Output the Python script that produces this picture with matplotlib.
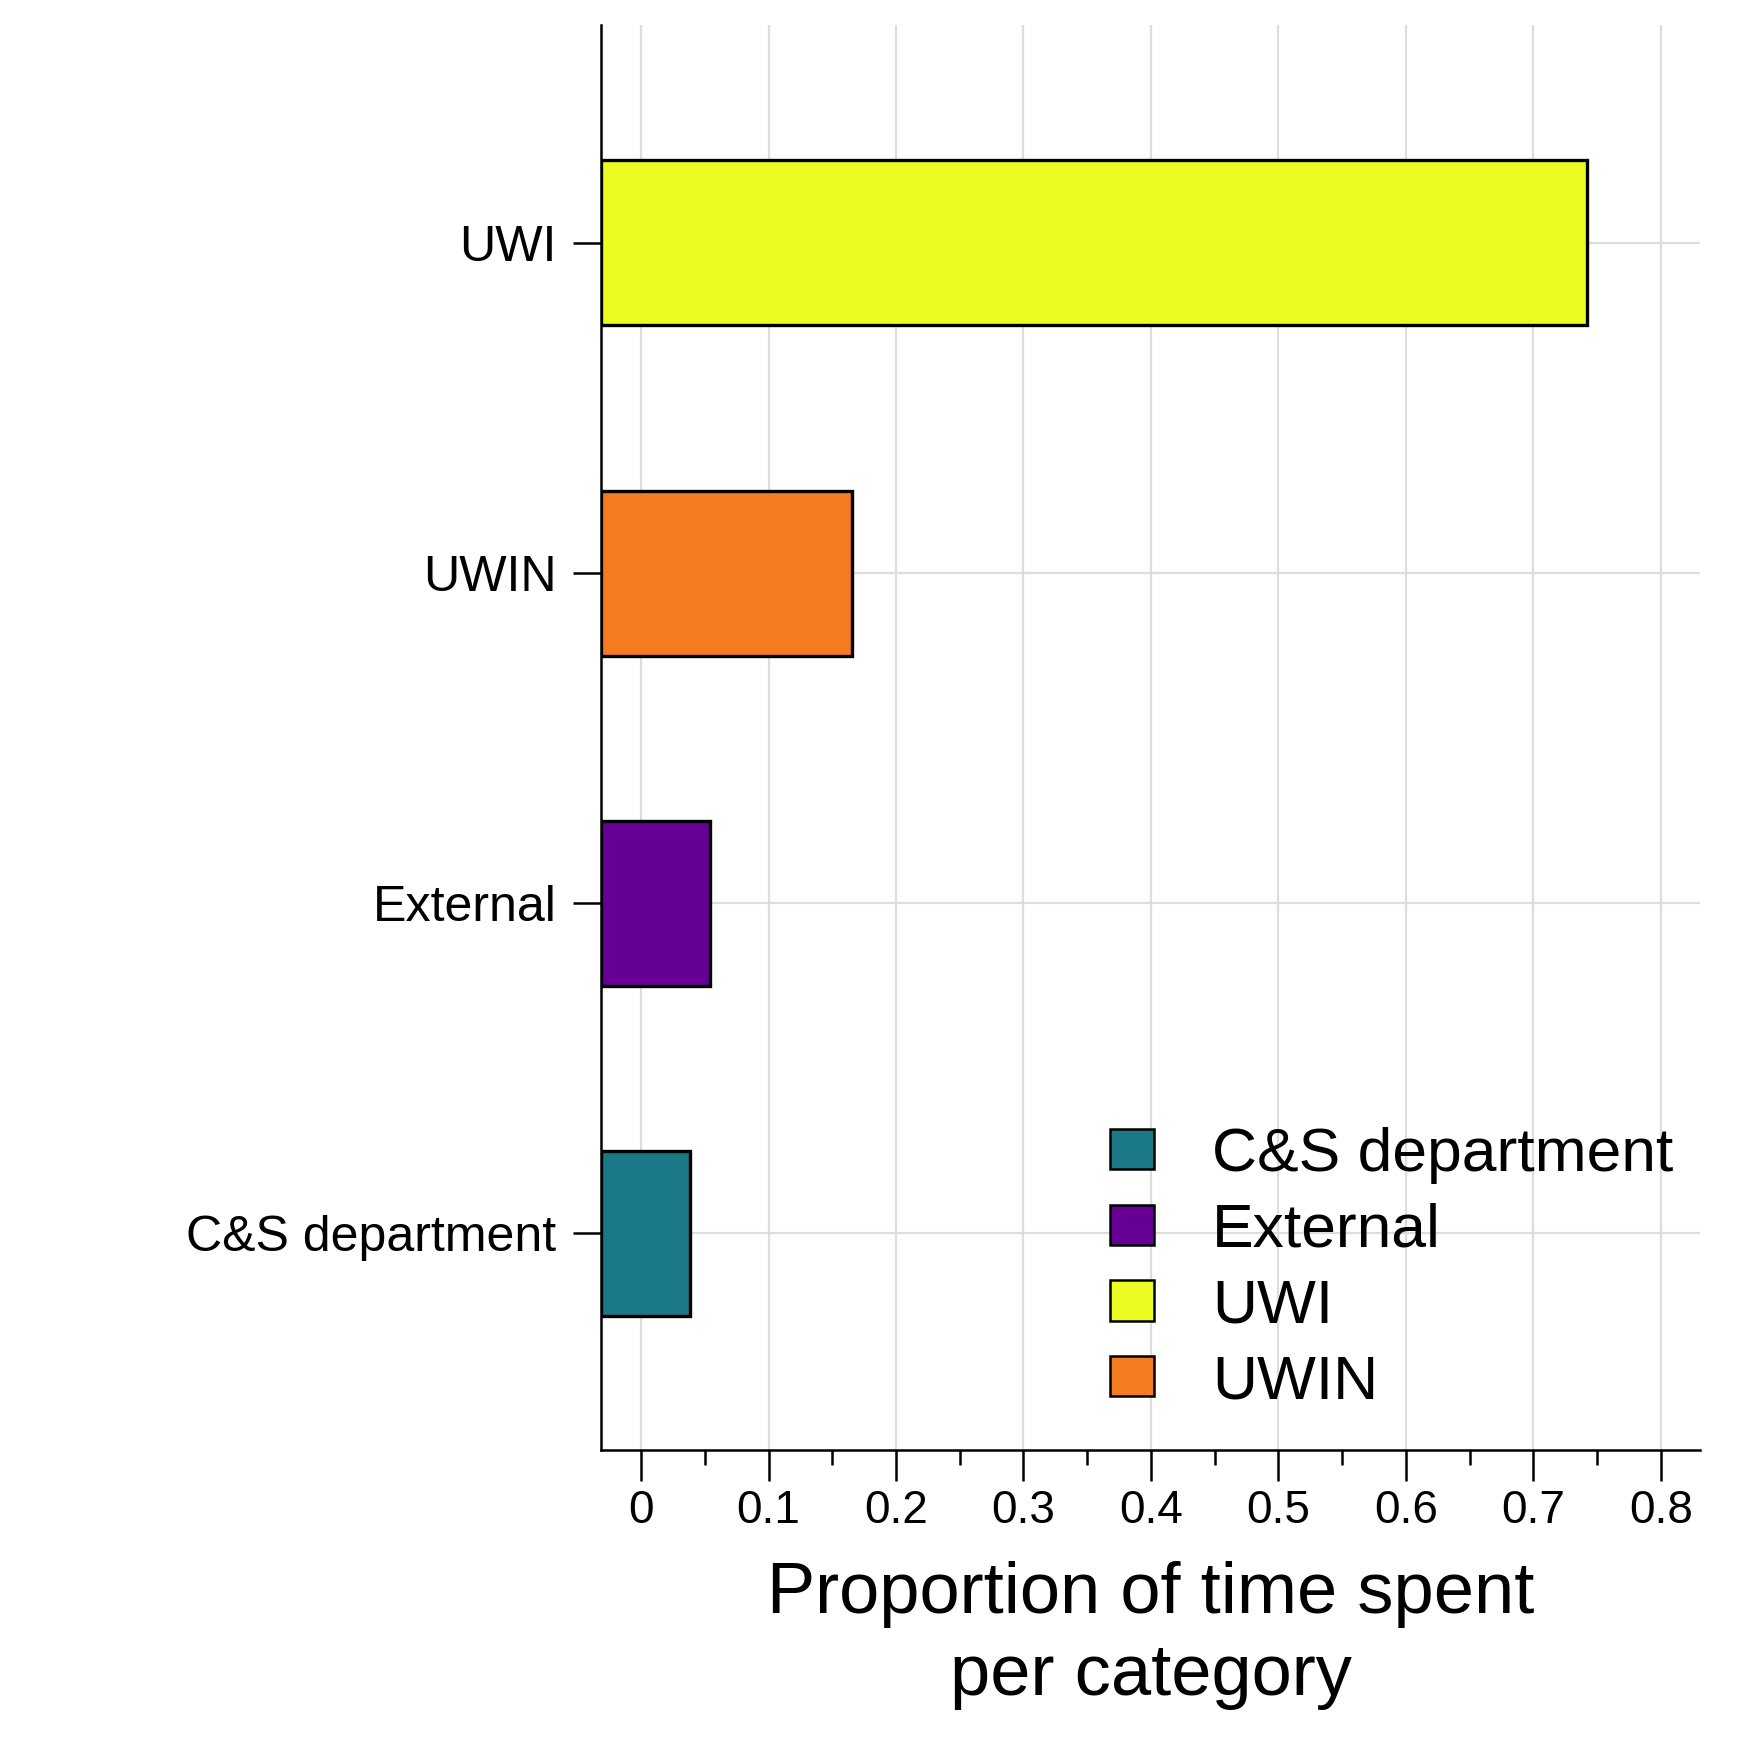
import matplotlib
matplotlib.use("Agg")
import matplotlib.pyplot as plt
from matplotlib.patches import Patch
from matplotlib.ticker import MultipleLocator

plt.rcParams['font.family'] = ['Liberation Sans', 'DejaVu Sans']

# Data (bottom to top on the y axis)
categories = ["C&S department", "External", "UWIN", "UWI"]
proportions = [0.0386, 0.0543, 0.1656, 0.742]
colors = {"C&S department": "#1b7886", "External": "#660094",
          "UWI": "#eafc21", "UWIN": "#f57b20"}
legend_order = ["C&S department", "External", "UWI", "UWIN"]
xticks = [0, 0.1, 0.2, 0.3, 0.4, 0.5, 0.6, 0.7, 0.8]
xticklabels = ["0", "0.1", "0.2", "0.3", "0.4", "0.5", "0.6", "0.7", "0.8"]

XMIN, XMAX = -0.0315, 0.8307

fig = plt.figure(figsize=(17.5, 17.5), dpi=100)
ax = fig.add_axes([0.3434, 0.1714, 0.9714 - 0.3434, 0.9857 - 0.1714])

ypos = list(range(len(categories)))
# bars start at the left edge of the panel
ax.barh(ypos, [p - XMIN for p in proportions], left=XMIN, height=0.5,
        color=[colors[c] for c in categories],
        edgecolor="black", linewidth=2.4, zorder=3)

ax.set_xlim(XMIN, XMAX)
ax.set_ylim(-0.656, 3.66)
ax.set_xticks(xticks)
ax.set_xticklabels(xticklabels)
ax.xaxis.set_minor_locator(MultipleLocator(0.05))
ax.set_yticks(ypos)
ax.set_yticklabels(categories)

ax.grid(True, which="major", color="#dddddd", linewidth=1.6, zorder=0)
ax.set_axisbelow(True)

for s in ["top", "right"]:
    ax.spines[s].set_visible(False)
for s in ["left", "bottom"]:
    ax.spines[s].set_linewidth(1.8)
    ax.spines[s].set_color("black")
    ax.spines[s].set_zorder(4)

ax.tick_params(axis="x", which="major", length=22, width=1.8, labelsize=33,
               pad=6, direction="out")
ax.tick_params(axis="x", which="minor", length=11, width=1.8, direction="out")
ax.tick_params(axis="y", which="major", length=20, width=1.8, labelsize=36.1,
               pad=12, direction="out")

ax.set_xlabel("Proportion of time spent\nper category", fontsize=52,
              linespacing=1.3, labelpad=20)

handles = [Patch(facecolor=colors[c], edgecolor="black", linewidth=1.8)
           for c in legend_order]
fig.legend(handles, legend_order, loc="center left",
           bbox_to_anchor=(0.634, 0.2748), bbox_transform=fig.transFigure,
           frameon=False, fontsize=44.9, handlelength=0.72, handleheight=0.62,
           handletextpad=0.92, labelspacing=0.3, borderpad=0, borderaxespad=0)

fig.savefig("out.png", dpi=100, facecolor="white")
